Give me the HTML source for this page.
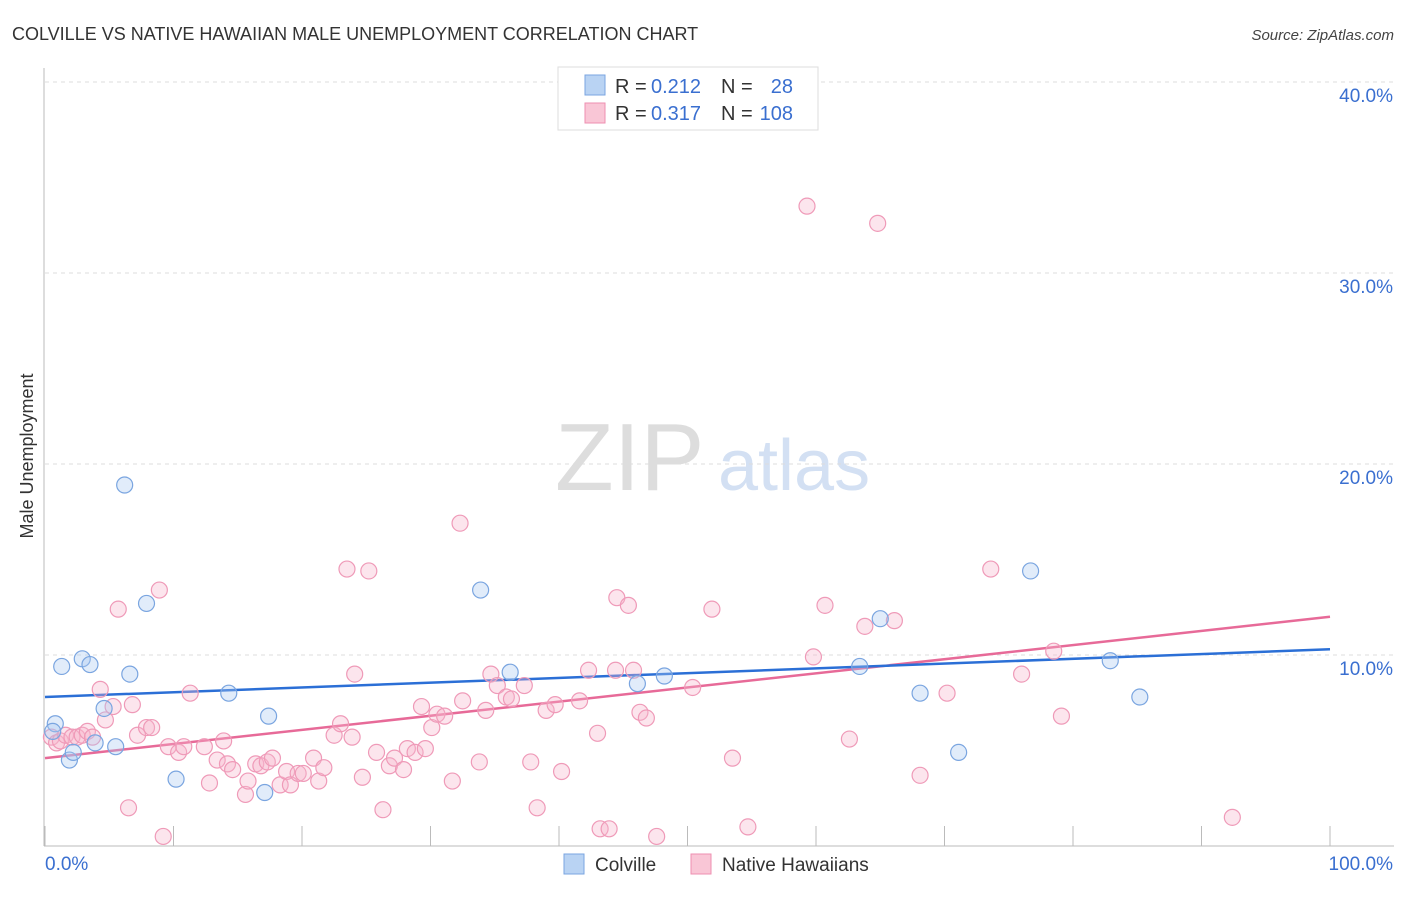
<!DOCTYPE html>
<html><head><meta charset="utf-8"><style>
body{margin:0;background:#fff;font-family:"Liberation Sans",sans-serif}
svg text{font-family:"Liberation Sans",sans-serif}
</style></head><body>
<svg id="chart" width="1406" height="892" viewBox="0 0 1406 892" xmlns="http://www.w3.org/2000/svg">
<text x="12" y="40" font-size="18" fill="#333">COLVILLE VS NATIVE HAWAIIAN MALE UNEMPLOYMENT CORRELATION CHART</text>
<text x="1394" y="40" font-size="15" fill="#444" text-anchor="end" font-style="italic">Source: ZipAtlas.com</text>
<g>
<text x="555" y="490" font-size="96" fill="#ddd" font-family="Liberation Serif">ZIP</text>
<text x="718" y="490" font-size="72" fill="#d3e0f3">atlas</text>
</g>
<g id="grid"></g>
<g id="axes"></g>
<g id="lines"></g>
<g id="pts"></g>
<text transform="translate(33,456) rotate(-90)" font-size="18" fill="#333" text-anchor="middle">Male Unemployment</text>
<g>
<rect x="558" y="67" width="260" height="63" fill="#fff" stroke="#ddd"/>
<rect x="585" y="75" width="20" height="20" fill="#b9d3f3" stroke="#7aa5e0"/>
<rect x="585" y="103" width="20" height="20" fill="#f9c6d6" stroke="#ee8fb0"/>
<text x="615" y="93" font-size="20" fill="#333">R =</text>
<text x="651" y="93" font-size="20" fill="#3a6fd0">0.212</text>
<text x="721" y="93" font-size="20" fill="#333">N =</text>
<text x="793" y="93" font-size="20" fill="#3a6fd0" text-anchor="end">28</text>
<text x="615" y="120" font-size="20" fill="#333">R =</text>
<text x="651" y="120" font-size="20" fill="#3a6fd0">0.317</text>
<text x="721" y="120" font-size="20" fill="#333">N =</text>
<text x="793" y="120" font-size="20" fill="#3a6fd0" text-anchor="end">108</text>
</g>
<g>
<rect x="564" y="854" width="20" height="20" fill="#b9d3f3" stroke="#7aa5e0"/>
<text x="595" y="871" font-size="19" fill="#333">Colville</text>
<rect x="691" y="854" width="20" height="20" fill="#f9c6d6" stroke="#ee8fb0"/>
<text x="722" y="871" font-size="19" fill="#333">Native Hawaiians</text>
</g>
</svg>
<script>
const yTicks=[10,20,30,40];
const yTickLabels=["10.0%","20.0%","30.0%","40.0%"];
const xEndLabels=["0.0%","100.0%"];
const colX=[0.8,0.6,1.3,1.9,2.2,2.9,3.5,3.9,4.6,5.5,6.2,6.6,7.9,10.2,14.3,17.1,17.4,33.9,36.2,46.1,48.2,63.4,65.0,68.1,71.1,76.7,82.9,85.2];
const colY=[6.4,6.0,9.4,4.5,4.9,9.8,9.5,5.4,7.2,5.2,18.9,9.0,12.7,3.5,8.0,2.8,6.8,13.4,9.1,8.5,8.9,9.4,11.9,8.0,4.9,14.4,9.7,7.8];
const nhX=[0.5,0.9,1.2,1.6,2.1,2.5,2.9,3.3,3.7,4.3,4.7,5.3,5.7,6.5,6.8,7.2,7.9,8.3,8.9,9.2,9.6,10.4,10.8,11.3,12.4,12.8,13.4,13.9,14.2,14.6,15.6,15.8,16.4,16.8,17.3,17.7,18.3,18.8,19.1,19.7,20.1,20.9,21.3,21.7,22.5,23.0,23.5,23.9,24.1,24.7,25.2,25.8,26.3,26.8,27.2,27.9,28.2,28.8,29.3,29.6,30.1,30.5,31.1,31.7,32.3,32.5,33.8,34.3,34.7,35.2,35.9,36.3,37.3,37.8,38.3,39.0,39.7,40.2,41.6,42.3,43.0,43.2,43.9,44.5,45.4,44.4,45.8,46.3,46.8,47.6,50.4,51.9,53.5,54.7,59.3,59.8,60.7,62.6,63.8,64.8,66.1,68.1,70.2,73.6,76.0,78.5,79.1,92.4];
const nhY=[5.7,5.4,5.5,5.8,5.7,5.7,5.8,6.0,5.7,8.2,6.6,7.3,12.4,2.0,7.4,5.8,6.2,6.2,13.4,0.5,5.2,4.9,5.2,8.0,5.2,3.3,4.5,5.5,4.3,4.0,2.7,3.4,4.3,4.2,4.4,4.6,3.2,3.9,3.2,3.8,3.8,4.6,3.4,4.1,5.8,6.4,14.5,5.7,9.0,3.6,14.4,4.9,1.9,4.2,4.6,4.0,5.1,4.9,7.3,5.1,6.2,6.9,6.8,3.4,16.9,7.6,4.4,7.1,9.0,8.4,7.8,7.7,8.4,4.4,2.0,7.1,7.4,3.9,7.6,9.2,5.9,0.9,0.9,13.0,12.6,9.2,9.2,7.0,6.7,0.5,8.3,12.4,4.6,1.0,33.5,9.9,12.6,5.6,11.5,32.6,11.8,3.7,8.0,14.5,9.0,10.2,6.8,1.5];
const colTrend=[7.8,10.3];
const nhTrend=[4.6,12.0];
const X0=45,X1=1330,Y0=846,PY=19.1;
const xs=v=>X0+(X1-X0)*v/100, ys=v=>Y0-v*PY;
const NS="http://www.w3.org/2000/svg";
function mk(tag,attrs,parent,txt){const e=document.createElementNS(NS,tag);for(const k in attrs)e.setAttribute(k,attrs[k]);if(txt)e.textContent=txt;document.getElementById(parent).appendChild(e);return e;}
yTicks.forEach((t,i)=>{
 const g=mk('line',{x1:45,x2:1394,y1:ys(t),y2:ys(t),stroke:'#ddd','stroke-dasharray':'4,4'},'grid');
 
 
 const l=mk('text',{x:1393,y:ys(t)+20,'font-size':19,fill:'#3a6fd0','text-anchor':'end'},'axes',yTickLabels[i]);
 
 
});
mk('line',{x1:44,x2:44,y1:68,y2:846,stroke:'#bbb'},'axes');
mk('line',{x1:44,x2:1394,y1:846,y2:846,stroke:'#bbb'},'axes');
for(let i=0;i<=10;i++){const t=mk('line',{x1:xs(i*10),x2:xs(i*10),y1:826,y2:846,stroke:'#bbb'},'axes');
 
 }
const xl0=mk('text',{x:45,y:870,'font-size':19,fill:'#3a6fd0'},'axes',xEndLabels[0]);


const xl1=mk('text',{x:1393,y:870,'font-size':19,fill:'#3a6fd0','text-anchor':'end'},'axes',xEndLabels[1]);


nhX.forEach((x,i)=>{const c=mk('circle',{cx:xs(x),cy:ys(nhY[i]),r:8,fill:'rgba(246,180,202,0.35)',stroke:'#ef9ab8','stroke-width':1.2},'pts');
 
 });
colX.forEach((x,i)=>{const c=mk('circle',{cx:xs(x),cy:ys(colY[i]),r:8,fill:'rgba(170,200,240,0.35)',stroke:'#7aa5e0','stroke-width':1.2},'pts');
 
 });
const tl1=mk('line',{x1:xs(0),y1:ys(nhTrend[0]),x2:xs(100),y2:ys(nhTrend[1]),stroke:'#e76a98','stroke-width':2.5},'lines');


const tl2=mk('line',{x1:xs(0),y1:ys(colTrend[0]),x2:xs(100),y2:ys(colTrend[1]),stroke:'#2b6fd6','stroke-width':2.5},'lines');


</script>
</body></html>
